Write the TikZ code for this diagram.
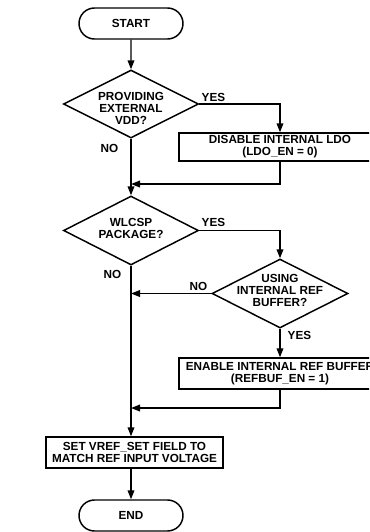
\documentclass[tikz,border=0pt]{standalone}
\usepackage{fontspec}
\setmainfont{Liberation Sans}
\usetikzlibrary{shapes.geometric,shapes.misc,arrows.meta}
\begin{document}
\begin{tikzpicture}[x=0.75pt,y=-0.75pt, line width=1.1pt,
  font=\fontsize{8.8}{9}\selectfont\bfseries,
  term/.style={rounded rectangle, draw, minimum width=78pt, minimum height=23.25pt, inner sep=0pt},
  dia/.style={diamond, draw, minimum width=101.25pt, minimum height=51pt, inner sep=0pt},
  proc/.style={rectangle, draw, inner sep=0pt, align=center},
  txt/.style={inner sep=0pt, align=center},
  lbl/.style={inner sep=0pt, anchor=base west},
  arr/.style={-{Triangle[length=6.75pt,width=5pt]}}]
\useasboundingbox (0,0) rectangle (369,532);
\clip (0,0) rectangle (369,532);
% nodes
\node[term] (start) at (131,23.5) {START};
\node[dia] (d1) at (131,104) {};
\node[txt] (d1t) at (131,108) {PROVIDING\\EXTERNAL\\VDD?};
\node[proc, minimum width=151.5pt, minimum height=21pt] (b1) at (280,147) {DISABLE INTERNAL LDO\\(LDO\_EN = 0)};
\coordinate (j1) at (131,184);
\node[dia, minimum height=51.75pt] (d2) at (131,230.5) {};
\node[txt] (d2t) at (131,228) {WLCSP\\PACKAGE?};
\node[dia, minimum width=102pt, minimum height=51.75pt] (d3) at (280,293.5) {};
\node[txt] (d3t) at (280,290.5) {USING\\INTERNAL REF\\BUFFER?};
\coordinate (j3) at (131,293.5);
\node[proc, minimum width=151.5pt, minimum height=23.25pt] (b2) at (280,373.5) {ENABLE INTERNAL REF BUFFER\\(REFBUF\_EN = 1)};
\coordinate (j2) at (131,408);
\node[proc, minimum width=132.75pt, minimum height=23.25pt] (b3) at (134.5,452.5) {SET VREF\_SET FIELD TO\\MATCH REF INPUT VOLTAGE};
\node[term] (end) at (131,515.5) {END};
% labels
\node[lbl] (y1) at (201,101) {YES};
\node[lbl] (n1) at (100,152) {NO};
\node[lbl] (y2) at (201,226) {YES};
\node[lbl] (n2) at (103,278) {NO};
\node[lbl] (n3) at (189,290) {NO};
\node[lbl] (y3) at (287,339) {YES};
% connectors
\draw[arr] (start) -- (d1);
\draw[arr] (d1.east) -| (b1.north);
\draw[arr] (b1.south) |- (j1);
\draw[arr] (d1.south) -- (d2.north);
\draw[arr] (d2.east) -| (d3.north);
\draw[arr] (d3.west) -- (j3);
\draw[arr] (d3.south) -- (b2.north);
\draw[arr] (b2.south) |- (j2);
\draw[arr] (d2.south) -- (d2.south |- b3.north);
\draw[arr] (end.north |- b3.south) -- (end.north);
\end{tikzpicture}
\end{document}
